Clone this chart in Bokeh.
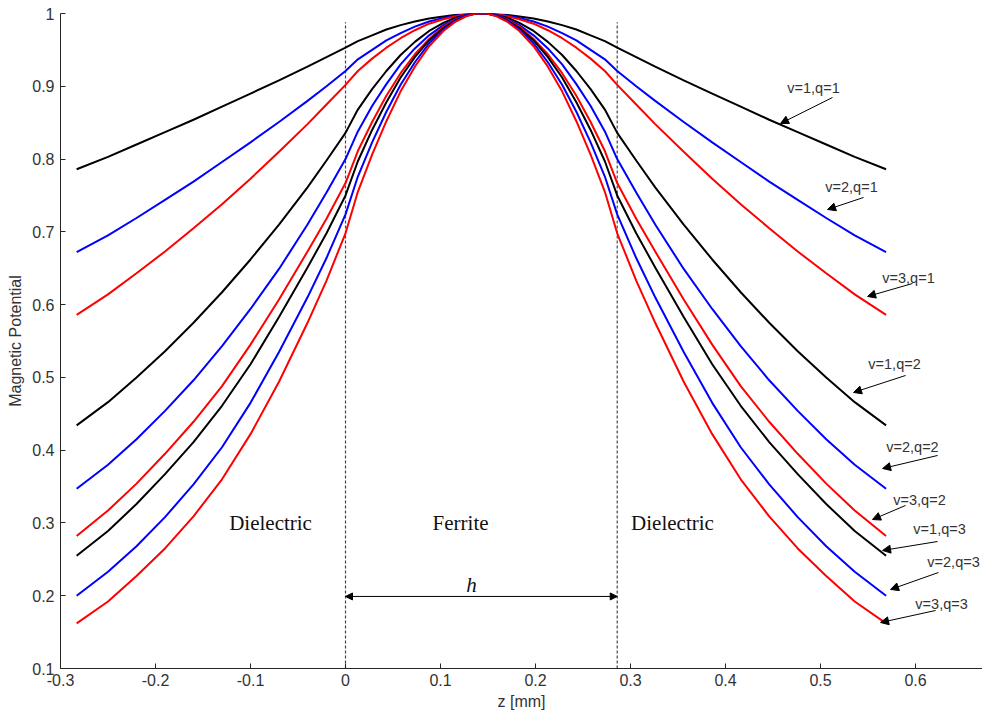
from bokeh.plotting import figure
from bokeh.models import Range1d, FixedTicker, CustomJSTickFormatter, Label, Arrow, NormalHead
from bokeh.embed import file_html
from bokeh.resources import INLINE

# ---- data ----
z = [-0.283, -0.25, -0.22, -0.19, -0.16, -0.13, -0.10, -0.07, -0.04, -0.02, 0.0,
     0.013, 0.028, 0.043, 0.058, 0.073, 0.088, 0.103, 0.115, 0.127, 0.137,
     0.143,
     0.149, 0.159, 0.171, 0.183, 0.198, 0.213, 0.228, 0.243, 0.258, 0.273,
     0.286, 0.306, 0.326, 0.356, 0.386, 0.416, 0.446, 0.476, 0.506, 0.536, 0.569]

v1q1 = [0.786, 0.803, 0.820, 0.837, 0.854, 0.872, 0.890, 0.908, 0.927, 0.940, 0.953,
        0.962, 0.970, 0.978, 0.984, 0.989, 0.993, 0.996, 0.998, 0.999, 1.000,
        1.000,
        1.000, 0.999, 0.998, 0.996, 0.993, 0.989, 0.984, 0.978, 0.970, 0.962,
        0.953, 0.940, 0.927, 0.908, 0.890, 0.872, 0.854, 0.837, 0.820, 0.803, 0.786]
v2q1 = [0.672, 0.695, 0.719, 0.744, 0.769, 0.796, 0.823, 0.851, 0.880, 0.900, 0.921,
        0.937, 0.950, 0.963, 0.973, 0.982, 0.989, 0.994, 0.997, 0.999, 1.000,
        1.000,
        1.000, 0.999, 0.997, 0.994, 0.989, 0.982, 0.973, 0.963, 0.950, 0.937,
        0.921, 0.900, 0.880, 0.851, 0.823, 0.796, 0.769, 0.744, 0.719, 0.695, 0.672]
v3q1 = [0.586, 0.614, 0.643, 0.673, 0.705, 0.738, 0.773, 0.810, 0.848, 0.875, 0.902,
        0.921, 0.938, 0.953, 0.966, 0.977, 0.986, 0.992, 0.996, 0.999, 1.000,
        1.000,
        1.000, 0.999, 0.996, 0.992, 0.986, 0.977, 0.966, 0.953, 0.938, 0.921,
        0.902, 0.875, 0.848, 0.810, 0.773, 0.738, 0.705, 0.673, 0.643, 0.614, 0.586]
v1q2 = [0.434, 0.466, 0.500, 0.536, 0.575, 0.617, 0.662, 0.710, 0.761, 0.798, 0.836,
        0.868, 0.896, 0.921, 0.943, 0.961, 0.976, 0.987, 0.994, 0.998, 1.000,
        1.000,
        1.000, 0.998, 0.994, 0.987, 0.976, 0.961, 0.943, 0.921, 0.896, 0.868,
        0.836, 0.798, 0.761, 0.710, 0.662, 0.617, 0.575, 0.536, 0.500, 0.466, 0.434]
v2q2 = [0.347, 0.380, 0.415, 0.454, 0.496, 0.543, 0.594, 0.649, 0.710, 0.754, 0.800,
        0.838, 0.873, 0.903, 0.930, 0.952, 0.970, 0.984, 0.992, 0.998, 1.000,
        1.000,
        1.000, 0.998, 0.992, 0.984, 0.970, 0.952, 0.930, 0.903, 0.873, 0.838,
        0.800, 0.754, 0.710, 0.649, 0.594, 0.543, 0.496, 0.454, 0.415, 0.380, 0.347]
v3q2 = [0.282, 0.317, 0.354, 0.395, 0.439, 0.488, 0.545, 0.607, 0.673, 0.718, 0.767,
        0.811, 0.851, 0.887, 0.918, 0.944, 0.965, 0.982, 0.991, 0.997, 1.000,
        1.000,
        1.000, 0.997, 0.991, 0.982, 0.965, 0.944, 0.918, 0.887, 0.851, 0.811,
        0.767, 0.718, 0.673, 0.607, 0.545, 0.488, 0.439, 0.395, 0.354, 0.317, 0.282]
v1q3 = [0.255, 0.289, 0.326, 0.367, 0.411, 0.461, 0.518, 0.583, 0.651, 0.698, 0.750,
        0.797, 0.840, 0.878, 0.912, 0.940, 0.963, 0.980, 0.990, 0.997, 1.000,
        1.000,
        1.000, 0.997, 0.990, 0.980, 0.963, 0.940, 0.912, 0.878, 0.840, 0.797,
        0.750, 0.698, 0.651, 0.583, 0.518, 0.461, 0.411, 0.367, 0.326, 0.289, 0.255]
v2q3 = [0.200, 0.233, 0.268, 0.308, 0.353, 0.404, 0.465, 0.535, 0.610, 0.664, 0.724,
        0.776, 0.823, 0.865, 0.902, 0.933, 0.959, 0.978, 0.989, 0.997, 1.000,
        1.000,
        1.000, 0.997, 0.989, 0.978, 0.959, 0.933, 0.902, 0.865, 0.823, 0.776,
        0.724, 0.664, 0.610, 0.535, 0.465, 0.404, 0.353, 0.308, 0.268, 0.233, 0.200]
v3q3 = [0.162, 0.192, 0.227, 0.265, 0.309, 0.360, 0.422, 0.494, 0.575, 0.633, 0.698,
        0.755, 0.806, 0.852, 0.893, 0.927, 0.955, 0.976, 0.988, 0.996, 1.000,
        1.000,
        1.000, 0.996, 0.988, 0.976, 0.955, 0.927, 0.893, 0.852, 0.806, 0.755,
        0.698, 0.633, 0.575, 0.494, 0.422, 0.360, 0.309, 0.265, 0.227, 0.192, 0.162]

series_names = ["v=1,q=1", "v=2,q=1", "v=3,q=1", "v=1,q=2", "v=2,q=2",
                "v=3,q=2", "v=1,q=3", "v=2,q=3", "v=3,q=3"]
series = [v1q1, v2q1, v3q1, v1q2, v2q2, v3q2, v1q3, v2q3, v3q3]
colors = ["#000000", "#0000ff", "#ff0000"] * 3

x_ticks = [-0.3, -0.2, -0.1, 0.0, 0.1, 0.2, 0.3, 0.4, 0.5, 0.6]
y_ticks = [0.1, 0.2, 0.3, 0.4, 0.5, 0.6, 0.7, 0.8, 0.9, 1.0]

boundaries = [0.0, 0.286]  # ferrite layer edges (h)

# annotation placement (data units)
label_pos = [(0.4926, 0.897), (0.5326, 0.761), (0.5926, 0.637), (0.5779, 0.519),
             (0.5968, 0.405), (0.6042, 0.332), (0.6253, 0.292), (0.6400, 0.246),
             (0.6274, 0.189)]
arrow_tail = [(0.5126, 0.8846), (0.5453, 0.7472), (0.5968, 0.6290), (0.5895, 0.5026),
              (0.6232, 0.3927), (0.5895, 0.3240), (0.6232, 0.2745), (0.6242, 0.2319),
              (0.6211, 0.1797)]
arrow_head = [(0.4579, 0.8489), (0.5074, 0.7307), (0.5495, 0.6112), (0.5347, 0.4793),
              (0.5653, 0.3748), (0.5547, 0.3047), (0.5653, 0.2622), (0.5737, 0.2086),
              (0.5632, 0.1632)]

SANS = "Liberation Sans"
SERIF = "Liberation Serif"
AX = "#262626"

p = figure(width=982, height=718, output_backend="svg", toolbar_location=None,
           x_range=Range1d(-0.3, 0.6705), y_range=Range1d(0.1, 1.0),
           min_border_left=60, min_border_right=0, min_border_top=13, min_border_bottom=50)
p.title = None
p.outline_line_color = None
p.background_fill_color = "white"
p.border_fill_color = "white"
p.xgrid.visible = False
p.ygrid.visible = False

fmt = CustomJSTickFormatter(code="""
var s = tick.toFixed(1);
if (s == '1.0') return '1';
if (s == '0.0' || s == '-0.0') return '0';
return s;
""")

for ax in (p.xaxis[0], p.yaxis[0]):
    ax.formatter = fmt
    ax.major_tick_in = 5
    ax.major_tick_out = 0
    ax.minor_tick_line_color = None
    ax.axis_line_color = AX
    ax.major_tick_line_color = AX
    ax.major_label_text_font = SANS
    ax.major_label_text_font_size = "16px"
    ax.major_label_text_color = "#333333"
    ax.axis_label_text_font = SANS
    ax.axis_label_text_font_size = "16px"
    ax.axis_label_text_font_style = "normal"
    ax.axis_label_text_color = "#333333"

p.xaxis[0].ticker = FixedTicker(ticks=x_ticks)
p.yaxis[0].ticker = FixedTicker(ticks=y_ticks)
p.xaxis[0].major_label_standoff = 5
p.yaxis[0].major_label_standoff = 6
p.yaxis[0].axis_label = "Magnetic Potential"
p.yaxis[0].axis_label_standoff = 5
p.xaxis[0].axis_label = "z [mm]"
p.xaxis[0].axis_label_standoff = 4

# boundaries
for b in boundaries:
    p.segment(x0=[b], y0=[0.1], x1=[b], y1=[0.988], line_color="#444444",
              line_width=1.2, line_dash="3 2")

# curves
for vals, c in zip(series, colors):
    p.line(z, vals, line_color=c, line_width=2)

# curve labels with arrows
for name, (lx, ly), (tx, ty), (hx, hy) in zip(series_names, label_pos, arrow_tail, arrow_head):
    p.add_layout(Label(x=lx, y=ly, text=name, text_font=SANS, text_font_size="14.5px",
                       text_color="#333333", text_align="center", text_baseline="middle"))
    p.add_layout(Arrow(x_start=tx, y_start=ty, x_end=hx, y_end=hy, line_color="black",
                       line_width=1,
                       end=NormalHead(size=8, fill_color="black", line_color="black")))

# region labels
region_texts = ["Dielectric", "Ferrite", "Dielectric"]
region_x = [-0.0789, 0.1211, 0.3442]
for t, x in zip(region_texts, region_x):
    p.add_layout(Label(x=x, y=0.3006, text=t, text_font=SERIF, text_font_size="21px",
                       text_color="#111111", text_align="center", text_baseline="middle"))

# h dimension
p.add_layout(Arrow(x_start=boundaries[0], y_start=0.199, x_end=boundaries[1], y_end=0.199,
                   line_color="black", line_width=1,
                   start=NormalHead(size=7, fill_color="black", line_color="black"),
                   end=NormalHead(size=7, fill_color="black", line_color="black")))
p.add_layout(Label(x=0.1326, y=0.2141, text="h", text_font=SERIF, text_font_size="21px",
                   text_font_style="italic", text_color="#111111",
                   text_align="center", text_baseline="middle"))

open("out.html", "w").write(file_html(p, INLINE))
